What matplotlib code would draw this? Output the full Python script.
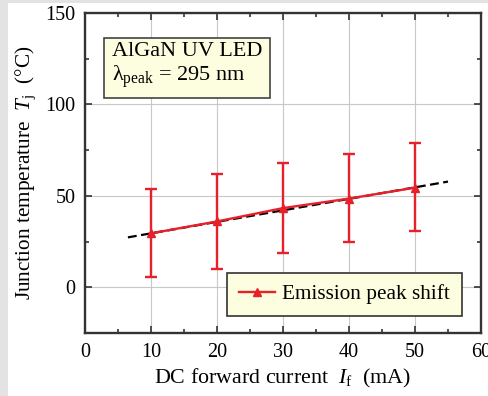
import numpy as np
import matplotlib
matplotlib.use("Agg")
import matplotlib.pyplot as plt
from matplotlib.patches import Rectangle
from matplotlib.ticker import MultipleLocator

plt.rcParams['font.family'] = ['Liberation Serif', 'DejaVu Serif']
plt.rcParams['mathtext.fontset'] = 'custom'
plt.rcParams['mathtext.rm'] = 'Liberation Serif'
plt.rcParams['mathtext.it'] = 'Liberation Serif:italic'

# data
current = [10, 20, 30, 40, 50]
temp = [29.5, 36.0, 43.3, 48.5, 54.5]
temp_low = [5.5, 10.0, 19.0, 25.0, 30.8]
temp_high = [54.0, 62.0, 68.0, 73.0, 78.7]
fit_x = [6.5, 55.0]
fit_y = [27.3, 57.8]

red = '#e8202a'

fig = plt.figure(figsize=(4.88, 3.96), dpi=100, facecolor='#e3e3e3')
fig.patches.append(Rectangle((8 / 488, 0), 1, 1 - 3 / 396, transform=fig.transFigure,
                             facecolor='white', edgecolor='none', zorder=-10))
ax = fig.add_axes([85 / 488, 1 - 333 / 396, 396 / 488, 320 / 396])

yerr = [np.array(temp) - np.array(temp_low), np.array(temp_high) - np.array(temp)]
ax.errorbar(current, temp, yerr=yerr, fmt='none', ecolor=red, elinewidth=1.7,
            capsize=4, capthick=1.7, zorder=3)
ax.plot(fit_x, fit_y, color='black', lw=1.6, ls=(0, (4, 2)), zorder=4)
ax.plot(current, temp, color=red, lw=1.7, marker='^', ms=6,
        label='Emission peak shift', zorder=5)

ax.set_xlim(0, 60)
ax.set_ylim(-25, 150)
ax.xaxis.set_major_locator(MultipleLocator(10))
ax.xaxis.set_minor_locator(MultipleLocator(5))
ax.yaxis.set_major_locator(MultipleLocator(50))
ax.yaxis.set_minor_locator(MultipleLocator(25))
ax.tick_params(which='both', direction='in', top=True, right=True, labelsize=14.5,
               width=1.2, color='#333333')
ax.tick_params(which='major', length=5, pad=7)
ax.tick_params(which='minor', length=3)
ax.grid(True, which='major', color='#c8c8c8', lw=0.8)
for s in ax.spines.values():
    s.set_linewidth(1.7)
    s.set_color('#333333')

ax.set_xlabel('DC forward current  $I_\\mathrm{f}$  (mA)', fontsize=15.8, labelpad=4)
ax.set_ylabel('Junction temperature  $T_\\mathrm{j}$  (°C)', fontsize=15.3, labelpad=5)

ax.text(0.068, 0.909, 'AlGaN UV LED\nλ$_\\mathrm{peak}$ = 295 nm', transform=ax.transAxes,
        fontsize=16, va='top', ha='left', linespacing=1.15,
        bbox=dict(boxstyle='square,pad=0.35', facecolor='#fdfddf', edgecolor='#444444', lw=1.2))

leg = ax.legend(loc='lower right', bbox_to_anchor=(0.952, 0.053), fontsize=15.3,
                frameon=True, fancybox=False, handlelength=1.7, handletextpad=0.35,
                borderpad=0.55, borderaxespad=0)
leg.get_frame().set_facecolor('#fdfddf')
leg.get_frame().set_edgecolor('#333333')
leg.get_frame().set_linewidth(1.2)
leg.get_frame().set_alpha(1)

fig.savefig('out.png', dpi=100, facecolor=fig.get_facecolor())
